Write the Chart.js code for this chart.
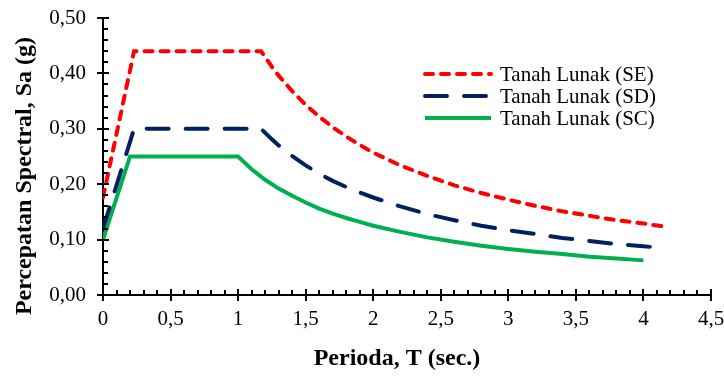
<!DOCTYPE html>
<html>
<head>
<meta charset="utf-8">
<script src="https://cdn.jsdelivr.net/npm/chart.js@4/dist/chart.umd.min.js"></script>
<style>
html,body{margin:0;padding:0;background:#fff;}
#wrap{width:724px;height:376px;}
</style>
</head>
<body>
<div id="wrap"><canvas id="c" width="724" height="376"></canvas></div>
<script>
// Periods (s) and spectral accelerations (g)
const periodSE = [0, 0.23, 1.17, 1.25, 1.3, 1.4, 1.5, 1.6, 1.7, 1.8, 1.9, 2.0, 2.2, 2.4, 2.6, 2.8, 3.0, 3.2, 3.4, 3.6, 3.8, 4.0, 4.17];
const saSE     = [0.176, 0.44, 0.44, 0.412, 0.396, 0.368, 0.343, 0.322, 0.303, 0.286, 0.271, 0.257, 0.234, 0.215, 0.198, 0.184, 0.172, 0.161, 0.151, 0.143, 0.135, 0.129, 0.123];

const periodSD = [0, 0.23, 1.17, 1.25, 1.3, 1.4, 1.5, 1.6, 1.7, 1.8, 1.9, 2.0, 2.2, 2.4, 2.6, 2.8, 3.0, 3.2, 3.4, 3.6, 3.8, 4.0, 4.17];
const saSD     = [0.12, 0.30, 0.30, 0.281, 0.270, 0.251, 0.234, 0.219, 0.206, 0.195, 0.185, 0.176, 0.160, 0.146, 0.135, 0.125, 0.117, 0.110, 0.103, 0.0975, 0.092, 0.088, 0.084];

const periodSC = [0, 0.2, 1.0, 1.1, 1.2, 1.3, 1.4, 1.5, 1.6, 1.7, 1.8, 1.9, 2.0, 2.2, 2.4, 2.6, 2.8, 3.0, 3.2, 3.4, 3.6, 3.8, 4.0];
const saSC     = [0.10, 0.25, 0.25, 0.227, 0.208, 0.192, 0.179, 0.167, 0.156, 0.147, 0.139, 0.132, 0.125, 0.114, 0.104, 0.096, 0.089, 0.083, 0.078, 0.074, 0.069, 0.066, 0.0625];

const seriesLabels = ['Tanah Lunak (SE)', 'Tanah Lunak (SD)', 'Tanah Lunak (SC)'];
const xTitle = 'Perioda, T (sec.)';
const yTitle = 'Percepatan Spectral, Sa (g)';

const toXY = (xs, ys) => xs.map((x, i) => ({x: x, y: ys[i]}));
const FONT = "'Liberation Serif', 'Times New Roman', serif";

const axisPlugin = {
  id: 'axisDecor',
  afterDraw(chart) {
    const ctx = chart.ctx, xs = chart.scales.x, ys = chart.scales.y, a = chart.chartArea;
    ctx.save();
    ctx.strokeStyle = '#000';
    ctx.lineWidth = 2;
    // x ticks
    for (let i = 0; i <= 45; i++) {
      const px = Math.round(xs.getPixelForValue(i / 10));
      ctx.beginPath();
      if (i % 5 === 0) { ctx.moveTo(px, a.bottom + 6); ctx.lineTo(px, a.bottom - 6); }
      else { ctx.moveTo(px, a.bottom); ctx.lineTo(px, a.bottom - 5); }
      ctx.stroke();
    }
    // y ticks
    for (let i = 0; i <= 25; i++) {
      const py = Math.round(ys.getPixelForValue(i / 50));
      ctx.beginPath();
      if (i % 5 === 0) { ctx.moveTo(a.left - 6, py); ctx.lineTo(a.left + 6, py); }
      else { ctx.moveTo(a.left, py); ctx.lineTo(a.left + 5, py); }
      ctx.stroke();
    }
    // axis titles
    ctx.fillStyle = '#000';
    ctx.font = "bold 24px " + FONT;
    ctx.textAlign = 'center';
    ctx.textBaseline = 'middle';
    ctx.fillText(xTitle, 397, 359);
    ctx.save();
    ctx.translate(25, 176);
    ctx.rotate(-Math.PI / 2);
    ctx.fillText(yTitle, 0, 0);
    ctx.restore();
    // legend
    const rows = [74, 96, 118];
    chart.data.datasets.forEach((ds, i) => {
      const y = rows[i];
      ctx.save();
      ctx.strokeStyle = ds.borderColor;
      ctx.lineWidth = ds.borderWidth;
      ctx.lineCap = ds.borderCapStyle || 'butt';
      ctx.setLineDash(ds.borderDash || []);
      ctx.beginPath();
      ctx.moveTo(425, y); ctx.lineTo(491, y);
      ctx.stroke();
      ctx.restore();
      ctx.font = "21px " + FONT;
      ctx.textAlign = 'left';
      ctx.textBaseline = 'middle';
      ctx.fillStyle = '#000';
      ctx.fillText(ds.label, 500, y + 1);
    });
    ctx.restore();
  }
};

new Chart(document.getElementById('c'), {
  type: 'line',
  data: {
    datasets: [
      {label: seriesLabels[0], data: toXY(periodSE, saSE), borderColor: '#ff0000', borderWidth: 4, borderDash: [8, 8], borderCapStyle: 'round', pointRadius: 0, tension: 0, fill: false},
      {label: seriesLabels[1], data: toXY(periodSD, saSD), borderColor: '#002060', borderWidth: 4, borderDash: [22, 17], borderCapStyle: 'round', pointRadius: 0, tension: 0, fill: false},
      {label: seriesLabels[2], data: toXY(periodSC, saSC), borderColor: '#00b050', borderWidth: 4, borderCapStyle: 'butt', pointRadius: 0, tension: 0, fill: false}
    ]
  },
  options: {
    responsive: false,
    animation: false,
    events: [],
    layout: {padding: {left: 0, right: 13, top: 18, bottom: 0}},
    plugins: {legend: {display: false}, tooltip: {enabled: false}},
    scales: {
      x: {
        type: 'linear', min: 0, max: 4.5,
        border: {display: true, color: '#000', width: 2},
        grid: {display: false, drawTicks: false},
        ticks: {stepSize: 0.5, padding: 12, color: '#000', maxRotation: 0, autoSkip: false,
          font: {family: FONT, size: 21},
          callback: v => String(Math.round(v * 10) / 10).replace('.', ',')},
        afterFit: s => { s.height = 81; s.paddingLeft = 0; s.paddingRight = 0; }
      },
      y: {
        min: 0, max: 0.5,
        border: {display: true, color: '#000', width: 2},
        grid: {display: false, drawTicks: false},
        ticks: {stepSize: 0.1, padding: 17, color: '#000',
          font: {family: FONT, size: 21},
          callback: v => v.toFixed(2).replace('.', ',')},
        afterFit: s => { s.width = 103; s.paddingTop = 0; s.paddingBottom = 0; }
      }
    }
  },
  plugins: [axisPlugin]
});
</script>
</body>
</html>
